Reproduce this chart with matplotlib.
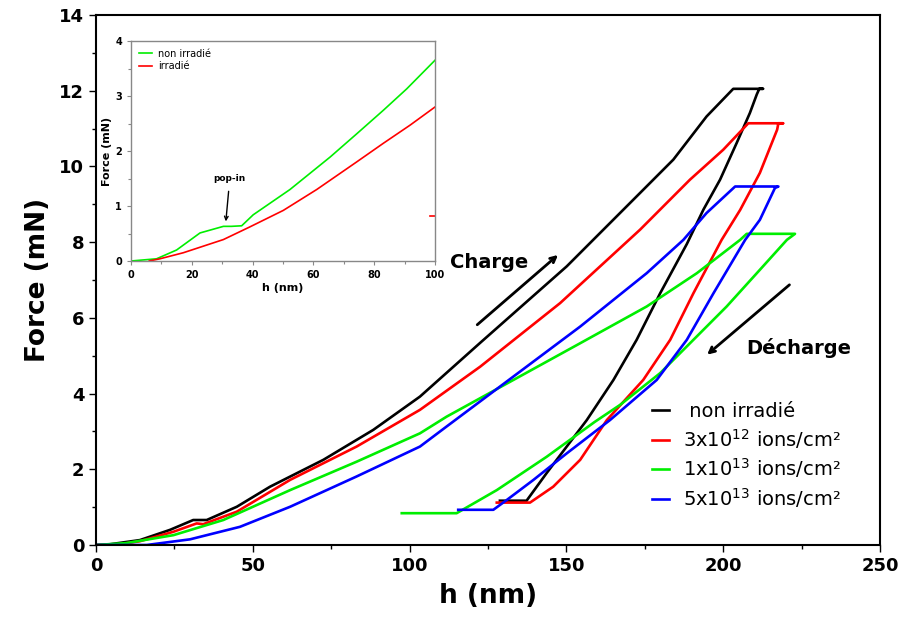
import matplotlib
matplotlib.use("Agg")
import matplotlib.pyplot as plt
from matplotlib.ticker import MultipleLocator

plt.rcParams['font.family'] = ['DejaVu Sans']

# ---- main chart data: load -> hold -> unload (h in nm, F in mN)
h_black = [0, 4.5, 14, 23.6, 31, 35.3, 44.9, 55.5, 72.5, 88.4, 103.3, 122.5, 150.1, 173.5, 184.1, 194.7, 203.2,
           212.7, 211.5, 210.7, 208.5, 204.3, 199, 193.7, 188.4, 179.9, 172.4, 165, 156.5, 153.3, 143.7, 137.3, 128.8]
f_black = [0, 0.02, 0.13, 0.4, 0.66, 0.66, 1.01, 1.54, 2.25, 3.04, 3.92, 5.34, 7.36, 9.30, 10.18, 11.32, 12.05,
           12.05, 12.05, 11.9, 11.41, 10.62, 9.65, 8.86, 7.95, 6.65, 5.42, 4.36, 3.30, 2.95, 1.9, 1.17, 1.17]

h_red = [0, 6, 14, 24.7, 32.1, 34.2, 44.9, 61.9, 83.1, 103.3, 122.5, 148, 173.5, 189.4, 200, 208,
         219.1, 217.6, 217.2, 211.7, 205.4, 199.5, 190.5, 183.1, 174.5, 162.9, 154.4, 145.8, 138.4, 127.8]
f_red = [0, 0, 0.1, 0.35, 0.57, 0.55, 0.88, 1.72, 2.6, 3.57, 4.71, 6.39, 8.33, 9.65, 10.44, 11.14,
         11.14, 11.14, 10.97, 9.83, 8.85, 8.06, 6.65, 5.42, 4.36, 3.30, 2.25, 1.54, 1.12, 1.12]

h_green = [0, 9.6, 24.7, 40.6, 61.9, 83.1, 103.3, 111.8, 133.1, 154.4, 175.6, 191.6, 205.4, 207.5,
           222.9, 220.3, 211.7, 201.1, 190.5, 179.9, 167.1, 159, 143.7, 127.8, 115, 97.5]
f_green = [0, 0.05, 0.26, 0.66, 1.45, 2.2, 2.95, 3.39, 4.36, 5.33, 6.30, 7.18, 8.06, 8.22,
           8.22, 8.06, 7.27, 6.3, 5.42, 4.54, 3.7, 3.25, 2.33, 1.45, 0.84, 0.84]

h_blue = [0, 16.2, 30, 45.9, 61.9, 83.1, 103.3, 111.8, 133.1, 154.4, 175.6, 187.3, 194.7, 203.8,
          217.6, 216.5, 211.7, 207, 196.9, 188.4, 178.8, 163.9, 150.1, 139.5, 131, 126.7, 115.5]
f_blue = [0, 0, 0.15, 0.48, 1.01, 1.81, 2.6, 3.13, 4.45, 5.77, 7.18, 8.06, 8.77, 9.47,
          9.47, 9.43, 8.59, 8.06, 6.65, 5.42, 4.36, 3.30, 2.42, 1.72, 1.19, 0.93, 0.93]

labels = [' non irradié', '3x10$^{12}$ ions/cm²', '1x10$^{13}$ ions/cm²', '5x10$^{13}$ ions/cm²']

# ---- inset data (loading part, 0-100 nm)
h_in_green = [0, 8.4, 15, 22.7, 30.4, 33, 36.4, 40.2, 52.3, 65.5, 74.2, 83, 90.7, 100]
f_in_green = [0, 0.04, 0.2, 0.51, 0.63, 0.63, 0.64, 0.84, 1.3, 1.89, 2.31, 2.74, 3.13, 3.65]
h_in_red = [6, 9.5, 17.2, 30.4, 39.1, 50.1, 61.1, 74.2, 83, 91.8, 100]
f_in_red = [0, 0.04, 0.15, 0.39, 0.62, 0.92, 1.3, 1.8, 2.14, 2.47, 2.8]
h_in_red_mark = [98.4, 100]
f_in_red_mark = [0.82, 0.82]

fig = plt.figure(figsize=(9.08, 6.37), dpi=100)
ax = fig.add_axes([96/908, 92/637, 784/908, 530/637])

lw = 1.9
ax.plot(h_black, f_black, color='black', lw=lw, label=labels[0])
ax.plot(h_red, f_red, color='#ff0000', lw=lw, label=labels[1])
ax.plot(h_green, f_green, color='#00ee00', lw=lw, label=labels[2])
ax.plot(h_blue, f_blue, color='#0000ff', lw=lw, label=labels[3])

ax.set_xlim(0, 250)
ax.set_ylim(0, 14)
ax.xaxis.set_major_locator(MultipleLocator(50))
ax.xaxis.set_minor_locator(MultipleLocator(25))
ax.yaxis.set_major_locator(MultipleLocator(2))
ax.yaxis.set_minor_locator(MultipleLocator(1))
ax.tick_params(which='major', direction='out', length=5, width=1, labelsize=13)
ax.tick_params(which='minor', direction='out', length=3, width=1)
for lab in ax.get_xticklabels() + ax.get_yticklabels():
    lab.set_fontweight('bold')
for s in ax.spines.values():
    s.set_linewidth(1.5)
ax.set_xlabel('h (nm)', fontsize=19, fontweight='bold', labelpad=6)
ax.set_ylabel('Force (mN)', fontsize=19, fontweight='bold', labelpad=6)

leg = ax.legend(loc='upper left', bbox_to_anchor=(0.709, 0.27), frameon=False,
                fontsize=14, handlelength=0.9, handletextpad=0.7, labelspacing=0.3,
                borderpad=0, borderaxespad=0)

# arrows and captions
ax.annotate('', xy=(148, 7.71), xytext=(120.9, 5.77),
            arrowprops=dict(arrowstyle='->', color='black', lw=2))
ax.text(113, 7.45, 'Charge', fontsize=14, fontweight='bold', va='center', ha='left')
ax.annotate('', xy=(194.2, 4.98), xytext=(221.8, 6.92),
            arrowprops=dict(arrowstyle='->', color='black', lw=2))
ax.text(207.5, 5.2, 'Décharge', fontsize=14, fontweight='bold', va='center', ha='left')

# ---- inset
ins = fig.add_axes([131/908, (637-261)/637, 304/908, 220/637])
ins.plot(h_in_green, f_in_green, color='#00ee00', lw=1.2, label='non irradié')
ins.plot(h_in_red, f_in_red, color='#ff0000', lw=1.2, label='irradié')
ins.plot(h_in_red_mark, f_in_red_mark, color='#ff0000', lw=1.2)
ins.set_xlim(0, 100)
ins.set_ylim(0, 4)
ins.xaxis.set_major_locator(MultipleLocator(20))
ins.xaxis.set_minor_locator(MultipleLocator(10))
ins.yaxis.set_major_locator(MultipleLocator(1))
ins.yaxis.set_minor_locator(MultipleLocator(0.5))
ins.tick_params(which='major', direction='out', length=3, width=0.8, labelsize=7, colors='#888888',
                labelcolor='black')
ins.tick_params(which='minor', direction='out', length=2, width=0.8, colors='#888888')
for lab in ins.get_xticklabels() + ins.get_yticklabels():
    lab.set_fontweight('bold')
for s in ins.spines.values():
    s.set_color('#888888')
    s.set_linewidth(1)
ins.set_xlabel('h (nm)', fontsize=8, fontweight='bold', labelpad=2)
ins.set_ylabel('Force (mN)', fontsize=8, fontweight='bold', labelpad=2)
ins.legend(loc='upper left', frameon=False, fontsize=7, handlelength=1.4,
           handletextpad=0.6, labelspacing=0.25, borderaxespad=0.4)
ins.annotate('pop-in', xy=(31.2, 0.72), xytext=(32.5, 1.5), fontsize=6.5, fontweight='bold',
             ha='center', va='center',
             arrowprops=dict(arrowstyle='->', color='black', lw=1, shrinkA=4, shrinkB=0))

fig.savefig('out.png', dpi=100)
